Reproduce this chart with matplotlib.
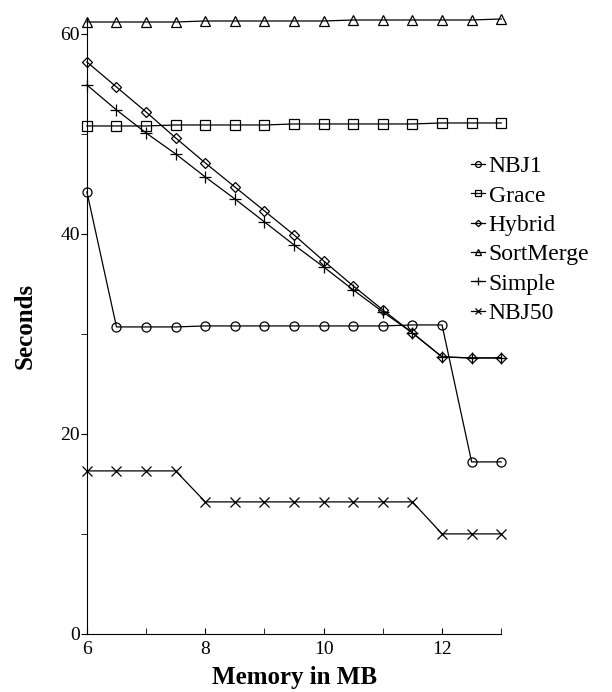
import matplotlib
matplotlib.use("Agg")
import matplotlib.pyplot as plt
from matplotlib.ticker import MultipleLocator

plt.rcParams['font.family'] = ['Liberation Serif', 'DejaVu Serif']

memory = [6, 6.5, 7, 7.5, 8, 8.5, 9, 9.5, 10, 10.5, 11, 11.5, 12, 12.5, 13]

nbj1 = [44.2, 30.7, 30.7, 30.7, 30.8, 30.8, 30.8, 30.8, 30.8, 30.8, 30.8, 30.9, 30.9, 17.2, 17.2]
grace = [50.8, 50.8, 50.8, 50.9, 50.9, 50.9, 50.9, 51.0, 51.0, 51.0, 51.0, 51.0, 51.1, 51.1, 51.1]
hybrid = [57.2, 54.7, 52.2, 49.6, 47.1, 44.7, 42.3, 39.9, 37.3, 34.8, 32.4, 30.1, 27.7, 27.6, 27.6]
sortmerge = [61.2, 61.2, 61.2, 61.2, 61.3, 61.3, 61.3, 61.3, 61.3, 61.4, 61.4, 61.4, 61.4, 61.4, 61.5]
simple = [54.9, 52.4, 50.1, 48.0, 45.7, 43.5, 41.2, 38.9, 36.7, 34.4, 32.2, 30.1, 27.7, 27.6, 27.6]
nbj50 = [16.3, 16.3, 16.3, 16.3, 13.2, 13.2, 13.2, 13.2, 13.2, 13.2, 13.2, 13.2, 10.0, 10.0, 10.0]

series = [
    ("NBJ1", nbj1, "o"),
    ("Grace", grace, "s"),
    ("Hybrid", hybrid, "D"),
    ("SortMerge", sortmerge, "^"),
    ("Simple", simple, "+"),
    ("NBJ50", nbj50, "x"),
]

fig = plt.figure(figsize=(6.12, 6.92), dpi=100)
ax = fig.add_axes([0.142, 0.084, 0.677, 0.890])

for name, vals, mk in series:
    size = {"o": 6.5, "s": 6.5, "D": 5.0, "^": 6.5, "+": 8, "x": 7}[mk]
    ax.plot(memory, vals, color="black", linewidth=0.9, marker=mk,
            markersize=size, markerfacecolor="none", markeredgecolor="black",
            markeredgewidth=0.9, label=name, clip_on=False)

ax.set_xlim(6, 13)
ax.set_ylim(0, 61.6)
ax.xaxis.set_major_locator(MultipleLocator(2))
ax.xaxis.set_minor_locator(MultipleLocator(1))
ax.yaxis.set_major_locator(MultipleLocator(20))
ax.yaxis.set_minor_locator(MultipleLocator(10))
ax.spines['top'].set_visible(False)
ax.spines['right'].set_visible(False)
ax.tick_params(axis='y', which='both', direction='out', labelsize=14, length=4, pad=1)
ax.tick_params(axis='x', which='both', direction='in', labelsize=14, length=4, pad=5)

ax.set_xlabel("Memory in MB", fontsize=18, fontweight="bold", labelpad=6)
ax.set_ylabel("Seconds", fontsize=18, fontweight="bold", labelpad=17)

fig.legend(loc="upper left", bbox_to_anchor=(0.75, 0.792), frameon=False,
           fontsize=17, handlelength=0.6, handletextpad=0.15, labelspacing=0.33,
           borderpad=0, markerscale=0.65)

fig.savefig("out.png", dpi=100)
